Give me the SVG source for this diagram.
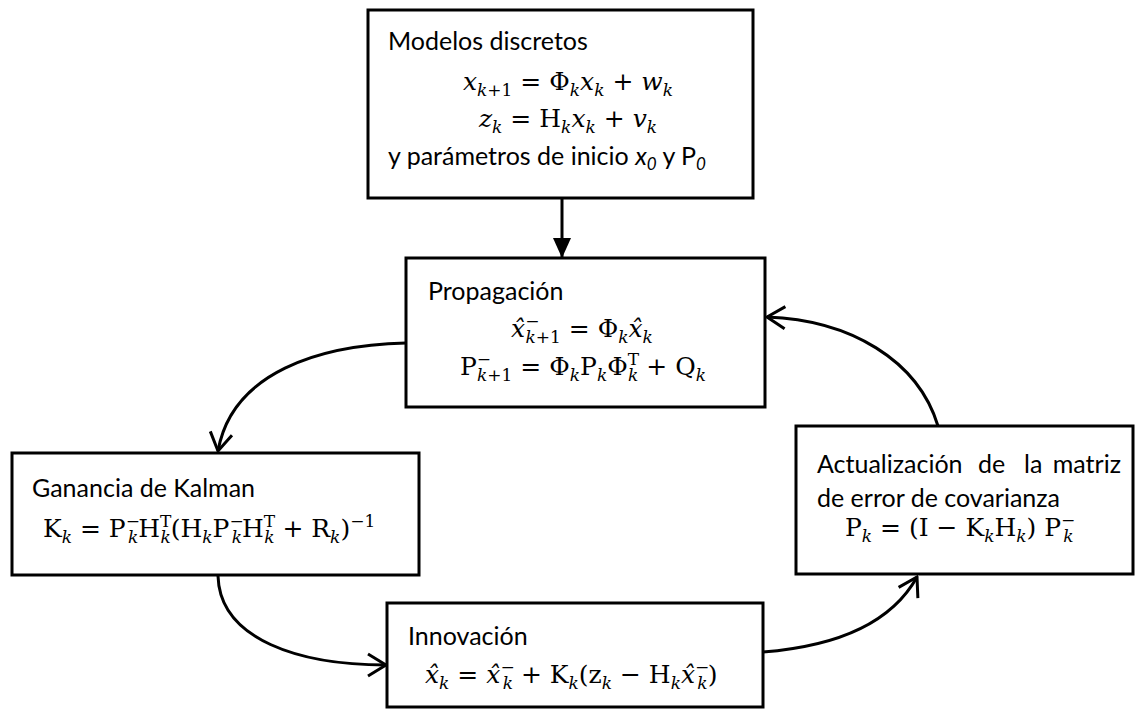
<svg xmlns="http://www.w3.org/2000/svg" width="1135" height="710" viewBox="0 0 1135 710">
<defs>
<style>
.box{fill:#fff;stroke:#000;stroke-width:3}
.lbl{font-family:Lato,"Liberation Sans",sans-serif;font-size:25px;fill:#000}
.m{font-family:"DejaVu Serif","Liberation Serif",serif;font-size:25px;fill:#000}
.i{font-style:italic}
.b{font-size:17px}
.con{fill:none;stroke:#000;stroke-width:3}
</style>
<marker id="open" viewBox="0 0 22 26" refX="20" refY="13" markerWidth="22" markerHeight="26" orient="auto" markerUnits="userSpaceOnUse">
<path d="M2,2 L20,13 L2,24" fill="none" stroke="#000" stroke-width="3"/>
</marker>
<marker id="solid" viewBox="0 0 20 18" refX="20" refY="9" markerWidth="20" markerHeight="18" orient="auto" markerUnits="userSpaceOnUse">
<path d="M0,0 L20,9 L0,18 z" fill="#000"/>
</marker>
</defs>
<rect width="1135" height="710" fill="#fff"/>

<g id="connectors">
<path class="con" d="M562,199 L562,258" marker-end="url(#solid)"/>
<path class="con" d="M406,343 C320,345 232,372 218,451" marker-end="url(#open)"/>
<path class="con" d="M218,576 C220,640 300,665 386,665" marker-end="url(#open)"/>
<path class="con" d="M763,652 C840,646 892,622 917,577" marker-end="url(#open)"/>
<path class="con" d="M938,426 C918,360 850,320 767,317" marker-end="url(#open)"/>
</g>

<g id="modelos">
<rect class="box" x="368" y="10" width="385" height="188"/>
<text class="lbl" x="388" y="50">Modelos discretos</text>
<text class="m" x="568" y="90" text-anchor="middle"><tspan class="i">x</tspan><tspan class="b" baseline-shift="-6"><tspan class="i">k</tspan>+1</tspan> = Φ<tspan class="b i" baseline-shift="-6">k</tspan><tspan class="i">x</tspan><tspan class="b i" baseline-shift="-6">k</tspan> + <tspan class="i">w</tspan><tspan class="b i" baseline-shift="-6">k</tspan></text>
<text class="m" x="568" y="127" text-anchor="middle"><tspan class="i">z</tspan><tspan class="b i" baseline-shift="-6">k</tspan> = H<tspan class="b i" baseline-shift="-6">k</tspan><tspan class="i">x</tspan><tspan class="b i" baseline-shift="-6">k</tspan> + <tspan class="i">v</tspan><tspan class="b i" baseline-shift="-6">k</tspan></text>
<text class="lbl" x="388" y="165">y parámetros de inicio <tspan class="i">x</tspan><tspan class="i" font-size="17" baseline-shift="-5">0</tspan> y P<tspan class="i" font-size="17" baseline-shift="-5">0</tspan></text>
</g>

<g id="propagacion">
<rect class="box" x="406" y="258" width="359" height="149"/>
<text class="lbl" x="428" y="300">Propagación</text>
<text class="m" x="582" y="337" text-anchor="middle"><tspan class="i">x̂</tspan><tspan class="b" baseline-shift="10">−</tspan><tspan class="b" dx="-14" baseline-shift="-6"><tspan class="i">k</tspan>+1</tspan> = Φ<tspan class="b i" baseline-shift="-6">k</tspan><tspan class="i">x̂</tspan><tspan class="b i" baseline-shift="-6">k</tspan></text>
<text class="m" x="583" y="375" text-anchor="middle">P<tspan class="b" baseline-shift="10">−</tspan><tspan class="b" dx="-14" baseline-shift="-6"><tspan class="i">k</tspan>+1</tspan> = Φ<tspan class="b i" baseline-shift="-6">k</tspan>P<tspan class="b i" baseline-shift="-6">k</tspan>Φ<tspan class="b" baseline-shift="10">T</tspan><tspan class="b i" dx="-11" baseline-shift="-6">k</tspan> + Q<tspan class="b i" baseline-shift="-6">k</tspan></text>
</g>

<g id="ganancia">
<rect class="box" x="12" y="453" width="407" height="122"/>
<text class="lbl" x="32" y="497">Ganancia de Kalman</text>
<text class="m" x="43" y="537">K<tspan class="b i" baseline-shift="-6">k</tspan> = P<tspan class="b" baseline-shift="10">−</tspan><tspan class="b i" dx="-12" baseline-shift="-6">k</tspan>H<tspan class="b" baseline-shift="10">T</tspan><tspan class="b i" dx="-11" baseline-shift="-6">k</tspan>(H<tspan class="b i" baseline-shift="-6">k</tspan>P<tspan class="b" baseline-shift="10">−</tspan><tspan class="b i" dx="-12" baseline-shift="-6">k</tspan>H<tspan class="b" baseline-shift="10">T</tspan><tspan class="b i" dx="-11" baseline-shift="-6">k</tspan> + R<tspan class="b i" baseline-shift="-6">k</tspan>)<tspan class="b" baseline-shift="10">−1</tspan></text>
</g>

<g id="innovacion">
<rect class="box" x="387" y="603" width="376" height="104"/>
<text class="lbl" x="408" y="645">Innovación</text>
<text class="m" x="425" y="683"><tspan class="i">x̂</tspan><tspan class="b i" baseline-shift="-6">k</tspan> = <tspan class="i">x̂</tspan><tspan class="b" baseline-shift="10">−</tspan><tspan class="b i" dx="-12" baseline-shift="-6">k</tspan> + K<tspan class="b i" baseline-shift="-6">k</tspan>(z<tspan class="b i" baseline-shift="-6">k</tspan> − H<tspan class="b i" baseline-shift="-6">k</tspan><tspan class="i">x̂</tspan><tspan class="b" baseline-shift="10">−</tspan><tspan class="b i" dx="-12" baseline-shift="-6">k</tspan>)</text>
</g>

<g id="actualizacion">
<rect class="box" x="796" y="426" width="337" height="148"/>
<text class="lbl" x="817" y="473">Actualización</text>
<text class="lbl" x="978" y="473">de</text>
<text class="lbl" x="1024" y="473">la</text>
<text class="lbl" x="1121" y="473" text-anchor="end">matriz</text>
<text class="lbl" x="817" y="507">de error de covarianza</text>
<text class="m" x="845" y="536">P<tspan class="b i" baseline-shift="-6">k</tspan> = (I − K<tspan class="b i" baseline-shift="-6">k</tspan>H<tspan class="b i" baseline-shift="-6">k</tspan>) P<tspan class="b" baseline-shift="10">−</tspan><tspan class="b i" dx="-12" baseline-shift="-6">k</tspan></text>
</g>
</svg>
